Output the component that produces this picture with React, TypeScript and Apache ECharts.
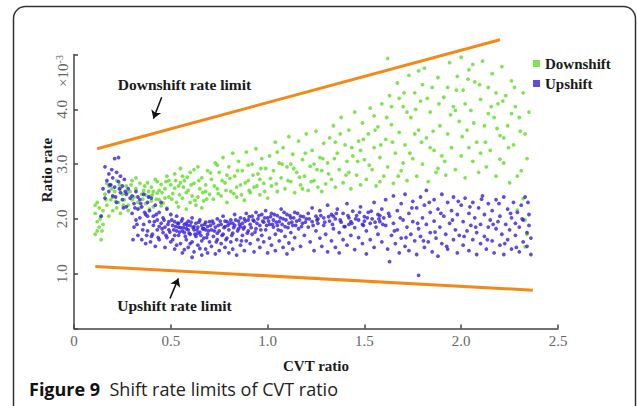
import React, { useEffect, useRef } from "react";
import * as echarts from "echarts";

// Measured shift-rate samples, [CVT ratio, ratio rate (×10^-3)]
const downshiftPoints: [number, number][] = [
  [0.11,2.10],[0.12,1.95],[0.12,1.78],[0.13,2.20],[0.11,1.72],[0.14,1.62],[0.13,1.85],[0.12,2.30],[0.14,2.05],[0.15,1.90],[0.11,2.25],[0.15,2.15],
  [0.16,2.45],[0.17,2.25],[0.18,2.60],[0.19,2.35],[0.20,2.15],[0.21,2.50],[0.22,2.70],[0.23,2.30],[0.24,2.55],[0.18,2.05],[0.20,2.40],[0.22,2.20],[0.25,2.45],[0.17,2.65],[0.24,2.10],
  [0.26,2.35],[0.27,2.60],[0.28,2.25],[0.29,2.50],[0.30,2.70],[0.31,2.40],[0.32,2.55],[0.33,2.30],[0.34,2.65],[0.35,2.45],[0.28,2.15],[0.30,2.35],[0.32,2.75],[0.34,2.20],
  [0.36,2.52],[0.37,2.28],[0.38,2.66],[0.39,2.41],[0.40,2.58],[0.41,2.22],[0.42,2.72],[0.43,2.47],[0.44,2.35],[0.45,2.63],[0.46,2.29],[0.47,2.55],[0.48,2.78],[0.49,2.40],[0.50,2.62],[0.37,2.44],[0.39,2.18],[0.41,2.50],[0.43,2.68],[0.45,2.24],[0.47,2.38],[0.49,2.70],[0.40,2.33],[0.44,2.52],[0.48,2.20],
  [0.51,2.46],[0.52,2.82],[0.53,2.30],[0.54,2.60],[0.55,2.92],[0.56,2.38],[0.57,2.70],[0.58,2.18],[0.59,2.52],[0.60,2.85],[0.61,2.42],[0.62,2.65],[0.63,2.25],[0.64,2.95],[0.65,2.55],[0.66,2.75],[0.67,2.33],[0.68,2.62],[0.69,2.88],[0.70,2.45],[0.52,2.56],[0.54,2.22],[0.56,2.78],[0.58,2.48],[0.60,2.30],[0.62,2.90],[0.64,2.40],[0.66,2.20],[0.68,2.50],[0.55,2.66],
  [0.71,2.72],[0.72,2.36],[0.73,3.02],[0.74,2.55],[0.75,2.85],[0.76,2.42],[0.77,3.12],[0.78,2.66],[0.79,2.30],[0.80,2.95],[0.81,2.50],[0.82,3.20],[0.83,2.78],[0.84,2.40],[0.85,3.05],[0.86,2.62],[0.87,2.88],[0.88,2.34],[0.89,3.22],[0.90,2.70],[0.91,2.48],[0.92,3.00],[0.93,2.58],[0.94,3.28],[0.95,2.82],[0.96,2.44],[0.97,3.10],[0.98,2.65],[0.99,2.92],[1.00,2.38],[0.74,2.98],[0.79,2.80],[0.84,2.58],[0.90,2.98],[0.96,2.72],
  [1.01,3.15],[1.02,2.60],[1.03,2.88],[1.04,3.40],[1.05,2.50],[1.06,3.02],[1.07,2.75],[1.08,3.30],[1.09,2.55],[1.10,2.95],[1.11,3.50],[1.12,2.68],[1.13,3.18],[1.14,2.48],[1.15,2.85],[1.16,3.42],[1.17,2.62],[1.18,3.08],[1.19,2.78],[1.20,3.55],[1.21,2.52],[1.22,2.96],[1.23,3.25],[1.24,2.70],[1.25,3.60],[1.26,2.58],[1.27,3.12],[1.28,2.88],[1.29,3.38],[1.30,2.64],[1.05,3.22],[1.12,3.00],[1.18,2.55],[1.24,3.00],[1.28,2.50],
  [1.31,3.02],[1.32,3.48],[1.33,2.72],[1.34,3.70],[1.35,2.58],[1.36,3.20],[1.37,2.90],[1.38,3.85],[1.39,2.66],[1.40,3.35],[1.41,3.05],[1.42,3.62],[1.43,2.55],[1.44,3.15],[1.45,3.95],[1.46,2.80],[1.47,3.42],[1.48,2.62],[1.49,3.75],[1.50,3.08],[1.51,2.72],[1.52,3.55],[1.53,4.02],[1.54,2.90],[1.55,3.30],[1.56,2.60],[1.57,3.68],[1.58,3.12],[1.59,4.10],[1.60,2.78],[1.35,3.40],[1.42,2.85],[1.48,3.25],[1.55,3.88],[1.58,2.68],
  [1.61,3.45],[1.62,4.93],[1.62,2.95],[1.63,4.25],[1.64,3.72],[1.65,2.65],[1.66,3.20],[1.67,4.48],[1.68,3.58],[1.69,2.88],[1.70,4.05],[1.71,3.35],[1.72,2.70],[1.73,4.62],[1.74,3.85],[1.75,3.10],[1.76,4.30],[1.77,2.78],[1.78,3.62],[1.79,4.15],[1.80,3.00],[1.81,4.75],[1.82,3.48],[1.83,2.68],[1.84,3.95],[1.85,4.40],[1.86,3.25],[1.87,2.85],[1.88,4.58],[1.89,3.70],[1.90,3.15],[1.64,4.05],[1.68,4.20],[1.72,3.95],[1.76,3.55],[1.80,4.45],[1.84,3.30],[1.88,2.92],[1.70,3.02],[1.78,4.70],
  [1.91,4.22],[1.92,2.80],[1.93,3.55],[1.94,4.85],[1.95,5.08],[1.95,3.30],[1.96,4.05],[1.97,2.90],[1.98,4.60],[1.99,3.78],[2.00,4.95],[2.00,3.15],[2.01,4.35],[2.02,2.75],[2.03,3.62],[2.04,4.72],[2.05,3.98],[2.06,3.05],[2.07,4.50],[2.08,3.40],[2.09,2.85],[2.10,4.18],[2.11,4.88],[2.12,3.70],[2.13,2.95],[2.14,4.40],[2.15,3.25],[2.16,4.65],[2.17,3.85],[2.18,2.78],[2.19,4.10],[2.20,3.52],[1.93,4.40],[1.97,3.98],[2.02,4.10],[2.06,4.82],[2.10,3.20],[2.14,3.92],[2.18,4.30],[2.04,3.30],
  [2.21,4.78],[2.22,3.02],[2.23,4.25],[2.24,3.70],[2.25,2.66],[2.26,4.52],[2.27,3.35],[2.28,4.05],[2.29,2.78],[2.30,3.85],[2.31,2.88],[2.32,4.30],[2.33,3.55],[2.34,3.10],[2.35,3.95],[2.22,3.48],[2.26,3.92],[2.32,2.37],[2.29,2.16],[2.33,1.98],[2.33,1.49],[2.20,3.09],[2.34,1.72],
  [0.355,2.36],[0.365,2.60],[0.385,2.50],[0.405,2.44],[0.425,2.36],[0.455,2.48],[0.475,2.68],[0.505,2.36],[0.525,2.70],[0.545,2.44],[0.565,2.58],[0.585,2.76],[0.605,2.62],[0.625,2.34],[0.645,2.70],[0.665,2.48],[0.685,2.36],[0.705,2.84],[0.725,2.60],[0.745,2.46],[0.765,2.70],[0.785,2.52],[0.805,2.74],[0.825,2.46],[0.845,2.88],[0.865,2.44],[0.885,2.66],[0.905,2.52],[0.925,2.80],[0.945,2.60],[0.965,2.92],[0.985,2.50],
  [1.015,2.74],[1.045,2.64],[1.075,3.00],[1.105,2.70],[1.135,2.92],[1.165,2.76],[1.195,3.20],[1.225,2.68],[1.255,2.90],[1.285,3.10],[1.315,2.82],[1.345,3.10],[1.375,3.55],[1.405,2.80],[1.435,3.30],[1.465,3.05],[1.495,3.45],[1.525,2.98],[1.555,3.62],[1.585,3.35],
  [1.615,3.85],[1.645,3.40],[1.675,2.78],[1.705,4.30],[1.735,3.20],[1.765,4.00],[1.795,3.40],[1.825,4.20],[1.855,3.60],[1.885,4.10],[1.915,3.05],[1.945,3.90],[1.975,4.35],[2.005,3.50],[2.035,4.55],[2.065,3.75],[2.095,4.45],[2.125,3.40],[2.155,4.05],[2.185,3.65],[2.215,4.15],[2.245,3.30],[2.275,4.40],[2.305,3.60],
  [0.135,2.00],[0.145,1.78],[0.165,2.35],[0.195,2.55],[0.215,2.32],[0.235,2.62],[0.255,2.25],[0.275,2.48],[0.295,2.62]
];

const upshiftPoints: [number, number][] = [
  [0.14,2.05],[0.15,2.55],[0.16,2.95],[0.16,2.38],[0.17,2.70],[0.18,2.82],[0.18,2.50],[0.19,2.62],[0.20,2.75],[0.20,2.42],[0.21,3.10],[0.21,2.58],[0.22,2.85],[0.22,2.30],[0.23,3.12],[0.23,2.68],[0.24,2.48],[0.24,2.78],[0.25,2.60],[0.25,2.35],[0.26,2.72],[0.27,2.45],[0.27,2.22],[0.28,2.55],[0.29,2.38],
  [0.30,2.10],[0.30,2.42],[0.31,1.85],[0.31,2.28],[0.32,2.50],[0.32,1.98],[0.33,2.18],[0.33,1.70],[0.34,2.35],[0.34,2.02],[0.35,1.62],[0.35,2.22],[0.36,1.90],[0.36,2.45],[0.37,2.08],[0.37,1.55],[0.38,1.78],[0.38,2.30],[0.39,1.95],[0.39,2.15],[0.40,1.68],[0.40,2.38],[0.41,1.88],[0.41,2.05],[0.42,1.50],[0.42,2.25],[0.43,1.80],[0.43,1.98],[0.44,2.12],[0.44,1.62],[0.45,1.92],[0.45,2.30],[0.46,1.75],[0.46,2.02],[0.47,1.48],[0.47,1.85],[0.48,2.18],[0.48,1.66],[0.49,1.95],[0.49,1.80],[0.50,2.08],[0.50,1.58],[0.33,2.40],[0.38,2.05],[0.44,1.86],
  [0.51,1.88],[0.51,1.62],[0.52,1.95],[0.52,1.45],[0.53,1.78],[0.53,2.05],[0.54,1.70],[0.54,1.92],[0.55,1.55],[0.55,1.84],[0.56,2.00],[0.56,1.38],[0.57,1.75],[0.57,1.90],[0.58,1.62],[0.58,1.82],[0.59,1.96],[0.59,1.48],[0.60,1.72],[0.60,1.88],[0.61,1.58],[0.61,2.02],[0.62,1.80],[0.62,1.40],[0.63,1.92],[0.63,1.68],[0.64,1.85],[0.64,1.52],[0.65,1.76],[0.65,1.98],[0.66,1.34],[0.66,1.88],[0.67,1.65],[0.67,1.82],[0.68,1.94],[0.68,1.45],[0.69,1.72],[0.69,1.86],[0.70,1.58],[0.70,1.95],[0.52,1.70],[0.54,1.85],[0.56,1.78],[0.58,1.92],[0.60,1.55],[0.62,1.86],[0.64,1.74],[0.66,1.60],[0.68,1.80],[0.53,1.52],[0.57,1.44],[0.61,1.30],[0.65,1.46],[0.69,1.38],[0.59,1.80],
  [0.71,1.80],[0.71,1.50],[0.72,1.92],[0.72,1.68],[0.73,1.36],[0.73,1.85],[0.74,2.00],[0.74,1.62],[0.75,1.78],[0.75,1.42],[0.76,1.90],[0.76,1.55],[0.77,1.72],[0.77,2.05],[0.78,1.48],[0.78,1.86],[0.79,1.65],[0.79,1.95],[0.80,1.38],[0.80,1.80],[0.81,1.58],[0.81,1.98],[0.82,1.74],[0.82,1.45],[0.83,1.88],[0.83,2.08],[0.84,1.62],[0.84,1.34],[0.85,1.82],[0.85,1.96],[0.86,1.52],[0.86,2.02],[0.87,1.70],[0.87,1.92],[0.88,1.42],[0.88,1.85],[0.89,2.10],[0.89,1.60],[0.90,1.78],[0.90,1.98],[0.74,1.74],[0.78,1.96],[0.82,1.92],[0.86,1.86],[0.88,2.00],
  [0.91,1.90],[0.91,1.55],[0.92,2.05],[0.92,1.72],[0.93,1.96],[0.93,1.40],[0.94,2.12],[0.94,1.82],[0.95,1.62],[0.95,2.00],[0.96,1.88],[0.96,1.48],[0.97,2.08],[0.97,1.70],[0.98,1.94],[0.98,1.58],[0.99,2.15],[0.99,1.80],[1.00,1.38],[1.00,2.02],[1.01,1.90],[1.01,1.65],[1.02,2.10],[1.02,1.52],[1.03,1.85],[1.03,1.98],[1.04,1.72],[1.04,1.42],[1.05,2.06],[1.05,1.88],[1.06,1.60],[1.06,1.95],[1.07,2.18],[1.07,1.78],[1.08,1.48],[1.08,2.00],[1.09,1.86],[1.09,1.68],[1.10,2.08],[1.10,1.36],[1.11,1.92],[1.11,1.56],[1.12,2.02],[1.12,1.75],[1.13,1.88],[1.13,1.45],[1.14,2.12],[1.14,1.66],[1.15,1.96],[1.16,1.82],[1.17,2.05],[1.17,1.50],[1.18,1.92],[1.19,1.70],[1.20,2.00],
  [1.21,1.85],[1.21,2.10],[1.22,1.58],[1.23,1.95],[1.23,2.20],[1.24,1.42],[1.25,1.78],[1.25,2.05],[1.26,1.92],[1.27,1.65],[1.27,2.15],[1.28,1.50],[1.29,1.88],[1.29,2.02],[1.30,1.72],[1.31,2.25],[1.31,1.40],[1.32,1.96],[1.33,1.60],[1.33,2.08],[1.34,1.82],[1.35,1.48],[1.35,2.00],[1.36,2.18],[1.37,1.75],[1.37,1.38],[1.38,1.94],[1.39,2.10],[1.39,1.62],[1.40,1.86],[1.41,2.28],[1.41,1.52],[1.42,2.02],[1.43,1.70],[1.43,1.95],[1.44,2.14],[1.45,1.44],[1.45,1.84],[1.46,2.06],[1.47,1.66],[1.47,1.98],[1.48,2.22],[1.49,1.55],[1.49,1.90],[1.50,2.04],[1.51,1.78],[1.51,1.36],[1.52,2.12],[1.53,1.92],[1.53,1.62],[1.54,2.00],[1.55,2.30],[1.55,1.48],[1.56,1.85],[1.57,2.08],[1.57,1.72],[1.58,1.95],[1.59,2.18],[1.59,1.58],[1.60,2.02],[1.26,2.00],[1.34,2.05],[1.42,1.90],[1.50,1.96],[1.58,2.06],
  [1.61,1.88],[1.61,2.35],[1.62,1.45],[1.63,1.22],[1.63,2.05],[1.64,1.70],[1.65,2.42],[1.65,1.92],[1.66,1.55],[1.67,2.15],[1.67,1.80],[1.68,1.38],[1.69,2.28],[1.69,1.65],[1.70,1.98],[1.71,2.45],[1.71,1.50],[1.72,1.85],[1.73,2.10],[1.73,1.42],[1.74,1.72],[1.75,2.32],[1.75,1.95],[1.76,1.60],[1.77,2.20],[1.77,1.35],[1.78,0.97],[1.78,1.82],[1.79,2.40],[1.79,1.68],[1.80,2.02],[1.81,1.48],[1.81,2.25],[1.82,2.52],[1.82,1.90],[1.83,1.58],[1.84,2.12],[1.84,1.75],[1.85,1.40],[1.86,2.35],[1.86,1.96],[1.87,1.65],[1.88,2.18],[1.88,1.32],[1.89,1.85],[1.90,2.45],[1.90,1.55],[1.91,2.05],[1.92,1.72],[1.93,2.30],[1.93,1.45],[1.94,1.92],[1.95,2.15],[1.96,1.62],[1.96,2.40],[1.97,1.80],[1.98,1.38],[1.98,2.08],[1.99,1.70],[2.00,2.25],
  [2.01,1.52],[2.01,1.95],[2.02,2.38],[2.03,1.78],[2.04,2.10],[2.04,1.42],[2.05,1.88],[2.06,2.30],[2.06,1.62],[2.07,2.02],[2.08,1.35],[2.08,1.75],[2.09,2.20],[2.10,1.90],[2.10,1.55],[2.11,2.42],[2.12,1.68],[2.12,2.08],[2.13,1.45],[2.14,1.85],[2.14,2.28],[2.15,1.98],[2.16,1.60],[2.16,2.15],[2.17,1.38],[2.18,1.82],[2.18,2.35],[2.19,1.95],[2.20,1.52],[2.20,2.05],[2.21,1.72],[2.22,2.40],[2.22,1.35],[2.23,1.90],[2.24,2.18],[2.24,1.62],[2.25,1.80],[2.26,2.02],[2.26,1.45],[2.27,2.30],[2.28,1.70],[2.28,1.92],[2.29,2.12],[2.30,1.40],[2.30,1.85],[2.31,2.25],[2.32,1.58],[2.32,1.98],[2.33,2.40],[2.34,1.75],[2.34,1.50],[2.35,2.08],[2.35,1.88],[2.36,1.65],[2.36,1.35],
  [0.405,1.72],[0.415,1.95],[0.425,2.08],[0.435,1.66],[0.455,1.82],[0.465,1.98],[0.475,1.70],[0.485,1.90],[0.495,1.76],[0.505,1.98],[0.515,1.80],[0.525,1.86],[0.535,1.92],[0.545,1.76],[0.555,1.96],[0.565,1.84],[0.575,1.68],[0.585,1.88],[0.595,1.74],[0.605,1.94],[0.615,1.84],[0.625,1.72],[0.635,1.80],[0.645,1.94],[0.655,1.70],[0.665,1.82],[0.675,1.90],[0.685,1.66],[0.695,1.78],
  [0.705,1.88],[0.715,1.96],[0.725,1.78],[0.735,1.58],[0.745,1.88],[0.755,1.96],[0.765,1.70],[0.775,1.84],[0.785,1.62],[0.795,1.88],[0.805,1.92],[0.815,1.70],[0.825,1.84],[0.835,1.98],[0.845,1.78],[0.855,1.90],[0.865,1.60],[0.875,1.82],[0.885,1.96],[0.895,1.74],
  [0.905,2.04],[0.915,1.84],[0.925,1.98],[0.935,1.76],[0.945,1.92],[0.955,2.06],[0.965,1.80],[0.975,1.96],[0.985,2.02],[0.995,1.88],[1.005,1.96],[1.015,2.04],[1.025,1.90],[1.035,2.08],[1.045,1.94],[1.055,1.80],[1.065,2.02],[1.075,1.90],[1.085,2.12],[1.095,1.98],[1.105,1.84],[1.115,2.06],[1.125,1.94],[1.135,2.02],[1.145,1.88],[1.155,2.10],[1.165,1.98],[1.175,1.86],[1.185,2.04],[1.195,1.94],
  [1.215,2.00],[1.235,1.88],[1.255,1.98],[1.275,2.06],[1.295,1.94],[1.315,2.04],[1.335,1.90],[1.355,2.10],[1.375,1.98],[1.395,1.86],[1.415,2.06],[1.435,1.92],[1.455,2.00],[1.475,2.12],[1.495,1.88],[1.515,2.02],[1.535,2.14],[1.555,1.94],[1.575,2.00],[1.595,1.90],
  [1.625,2.10],[1.655,1.78],[1.685,2.02],[1.715,1.66],[1.745,2.20],[1.775,1.92],[1.805,1.60],[1.835,2.30],[1.865,1.76],[1.895,2.10],[1.925,1.50],[1.955,1.98],[1.985,2.32],[2.015,1.68],[2.045,2.22],[2.075,1.85],[2.105,2.36],[2.135,1.62],[2.165,1.90],[2.195,2.28],[2.225,1.55],[2.255,2.10],[2.285,1.48],[2.315,2.00],[2.345,2.30],
  [0.305,1.62],[0.315,2.20],[0.325,1.90],[0.345,2.28],[0.355,1.80],[0.365,2.12],[0.375,1.70],[0.385,2.40],[0.395,1.58],[0.215,2.40],[0.235,2.55],[0.255,2.20],[0.265,2.50],[0.185,2.62],[0.195,2.90]
];

// Rate limit lines (end points)
const downshiftLimit: [number, number][] = [[0.12, 3.28], [2.2, 5.27]];
const upshiftLimit: [number, number][] = [[0.11, 1.13], [2.37, 0.7]];

// Annotation arrows: [from, to]
const downshiftArrow: [number, number][] = [[0.453, 4.22], [0.41, 3.83]];
const upshiftArrow: [number, number][] = [[0.496, 0.55], [0.539, 0.914]];

const seriesNames = ["Downshift", "Upshift"];
const xTicks = [0, 0.5, 1.0, 1.5, 2.0, 2.5];

const SERIF = "'Liberation Serif', 'Times New Roman', serif";
const SANS = "'Open Sans', 'Noto Sans', sans-serif";
const GREEN = "#62dc26";
const BLUE = "#3820d8";
const ORANGE = "#f28a1a";
const AXIS = "#444";

export default function App() {
  const ref = useRef<HTMLDivElement>(null);

  useEffect(() => {
    if (!ref.current) return;
    const chart = echarts.init(ref.current, undefined, { renderer: "svg" });

    chart.setOption({
      animation: false,
      backgroundColor: "#ffffff",
      grid: { left: 74, top: 54.5, right: 79, bottom: 77.5, outerBoundsMode: "none" },
      legend: {
        data: seriesNames,
        orient: "vertical",
        left: 528,
        top: 51,
        itemWidth: 7,
        itemHeight: 7,
        itemGap: 5,
        icon: "rect",
        selectedMode: false,
        textStyle: { fontFamily: SERIF, fontWeight: "bold", fontSize: 15, color: "#1a1a1a" },
      },
      xAxis: {
        type: "value",
        min: 0,
        max: 2.5,
        interval: 0.5,
        name: "CVT ratio",
        nameLocation: "middle",
        nameGap: 30,
        nameTextStyle: { fontFamily: SERIF, fontWeight: "bold", fontSize: 15, color: "#1a1a1a" },
        axisLine: { lineStyle: { color: AXIS, width: 1.5 } },
        axisTick: { inside: true, length: 4, lineStyle: { color: AXIS, width: 1.5 } },
        splitLine: { show: false },
        axisLabel: {
          margin: 5,
          fontFamily: SERIF,
          fontSize: 15,
          color: "#666",
          formatter: (v: number) => {
            const t = xTicks.find((k) => Math.abs(k - v) < 1e-9);
            if (t === undefined) return "";
            return t === 0 ? "0" : t.toFixed(1);
          },
        },
      },
      yAxis: {
        type: "value",
        min: 0,
        max: 5,
        interval: 1,
        axisLine: { show: true, lineStyle: { color: AXIS, width: 1.5 } },
        axisTick: { show: true, inside: true, length: 4, lineStyle: { color: AXIS, width: 1.5 } },
        splitLine: { show: false },
        axisLabel: {
          rotate: 90,
          margin: 5,
          fontFamily: SERIF,
          fontSize: 15,
          color: "#666",
          formatter: (v: number) => (v === 0 || v === 5 ? "" : v.toFixed(1)),
        },
      },
      series: [
        {
          name: "Downshift",
          type: "scatter",
          data: downshiftPoints,
          symbolSize: 3.8,
          itemStyle: { color: GREEN },
          silent: true,
        },
        {
          name: "Upshift",
          type: "scatter",
          data: upshiftPoints,
          symbolSize: 3.8,
          itemStyle: { color: BLUE },
          silent: true,
        },
        {
          name: "Downshift rate limit",
          type: "line",
          data: downshiftLimit,
          showSymbol: false,
          clip: false,
          silent: true,
          lineStyle: { color: ORANGE, width: 3 },
          markLine: {
            silent: true,
            symbol: ["none", "arrow"],
            symbolSize: 8,
            label: { show: false },
            lineStyle: { color: "#111", width: 1.5, type: "solid" },
            data: [
              [{ coord: downshiftArrow[0] }, { coord: downshiftArrow[1] }],
              [{ coord: upshiftArrow[0] }, { coord: upshiftArrow[1] }],
            ],
          },
        },
        {
          name: "Upshift rate limit",
          type: "line",
          data: upshiftLimit,
          showSymbol: false,
          clip: false,
          silent: true,
          lineStyle: { color: ORANGE, width: 3 },
        },
      ],
      graphic: [
        {
          type: "rect",
          shape: { x: 13.5, y: 6.5, width: 622, height: 430, r: 12 },
          style: { fill: "none", stroke: "#333", lineWidth: 1.5 },
          silent: true,
        },
        {
          type: "text",
          x: 47,
          y: 170,
          rotation: Math.PI / 2,
          style: {
            text: "Ratio rate",
            font: `bold 15px ${SERIF}`,
            fill: "#1a1a1a",
            align: "center",
            verticalAlign: "middle",
          },
        },
        {
          type: "text",
          x: 63,
          y: 71,
          rotation: Math.PI / 2,
          style: {
            text: "{a|×10}{b|-3}",
            align: "center",
            verticalAlign: "middle",
            rich: {
              a: { fontFamily: SERIF, fontSize: 15, fill: "#666", color: "#666" },
              b: { fontFamily: SERIF, fontSize: 10, fill: "#666", color: "#666", verticalAlign: "top", padding: [0, 0, 7, 0] },
            },
          },
        },
        {
          type: "text",
          x: 184.5,
          y: 84,
          style: {
            text: "Downshift rate limit",
            font: `bold 15.5px ${SERIF}`,
            fill: "#1a1a1a",
            align: "center",
            verticalAlign: "middle",
          },
        },
        {
          type: "text",
          x: 174.5,
          y: 305,
          style: {
            text: "Upshift rate limit",
            font: `bold 15.5px ${SERIF}`,
            fill: "#1a1a1a",
            align: "center",
            verticalAlign: "middle",
          },
        },
        {
          type: "text",
          x: 29,
          y: 389,
          style: {
            text: "{b|Figure 9}{r|  Shift rate limits of CVT ratio}",
            align: "left",
            verticalAlign: "middle",
            rich: {
              b: { fontFamily: SANS, fontWeight: "bold", fontSize: 18, fill: "#111", color: "#111" },
              r: { fontFamily: SANS, fontSize: 18, fill: "#222", color: "#222" },
            },
          },
        },
      ],
    });

    return () => chart.dispose();
  }, []);

  return (
    <div
      ref={ref}
      style={{ position: "absolute", left: 0, top: 0, width: 637, height: 406 }}
    />
  );
}
